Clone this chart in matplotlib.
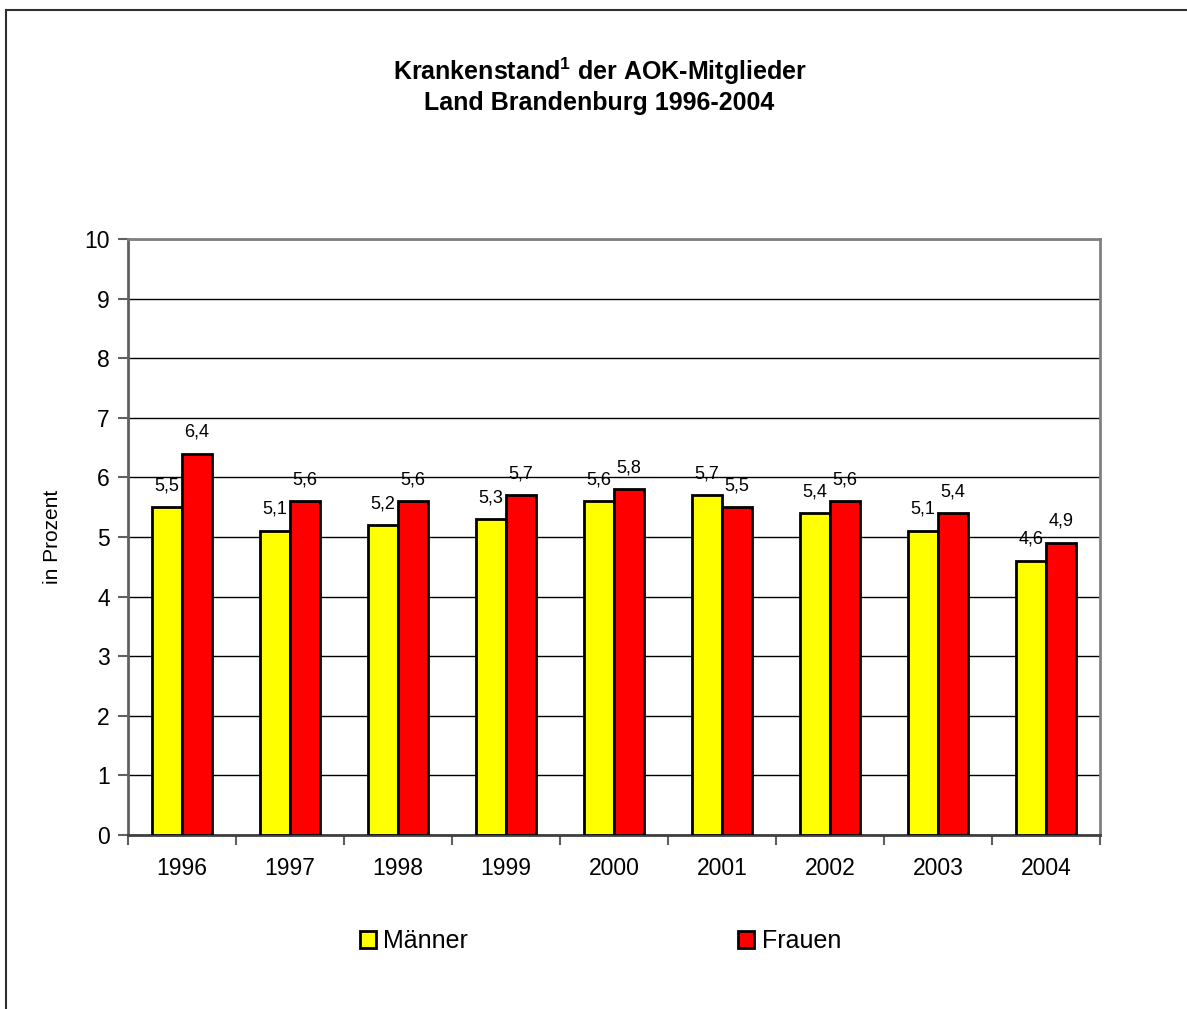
import numpy as np
import matplotlib.pyplot as plt
from matplotlib.lines import Line2D
from matplotlib.patches import Patch

plt.rcParams['font.family'] = ['Liberation Sans', 'DejaVu Sans']
plt.rcParams['mathtext.fontset'] = 'custom'
plt.rcParams['mathtext.rm'] = 'Liberation Sans'
plt.rcParams['mathtext.bf'] = 'Liberation Sans:bold'

# DATEN
jahre = ['1996', '1997', '1998', '1999', '2000', '2001', '2002', '2003', '2004']
maenner = [5.5, 5.1, 5.2, 5.3, 5.6, 5.7, 5.4, 5.1, 4.6]
frauen = [6.4, 5.6, 5.6, 5.7, 5.8, 5.5, 5.6, 5.4, 4.9]

fig = plt.figure(figsize=(11.87, 10.09), dpi=100)
ax = fig.add_axes([0.1078, 0.1724, 0.8189, 0.5907])

x = np.arange(len(jahre))
w = 0.28
ax.bar(x - w/2, maenner, w, color='#ffff00', edgecolor='black', lw=2, zorder=3)
ax.bar(x + w/2, frauen, w, color='#ff0000', edgecolor='black', lw=2, zorder=3)

for xi, m, f in zip(x, maenner, frauen):
    ax.text(xi - w/2, m + 0.22, f'{m:.1f}'.replace('.', ','), ha='center', va='bottom', fontsize=13)
    ax.text(xi + w/2, f + 0.22, f'{f:.1f}'.replace('.', ','), ha='center', va='bottom', fontsize=13)

ax.set_xlim(-0.5, len(jahre) - 0.5)
ax.set_ylim(0, 10)
ax.set_yticks(range(0, 11))
ax.yaxis.grid(True, color='black', lw=1)
ax.set_axisbelow(True)
ax.set_xticks(x)
ax.set_xticklabels(jahre, fontsize=16.5)
ax.set_xticks(np.arange(-0.5, len(jahre)), minor=True)
ax.tick_params(axis='x', which='major', length=0, pad=16)
ax.tick_params(axis='x', which='minor', length=7, width=1.5, color='#606060')
ax.tick_params(axis='y', length=7, width=1.5, color='#606060', labelsize=16.5, pad=6)
for s in ax.spines.values():
    s.set_color('#808080')
    s.set_linewidth(2)
ax.spines['left'].set_color('#606060')
ax.spines['bottom'].set_color('#404040')
ax.set_ylabel('in Prozent', fontsize=15, labelpad=16)

fig.text(0.505, 0.929, r'Krankenstand$^{\mathbf{1}}$ der AOK-Mitglieder', ha='center', va='center',
         fontsize=18, fontweight='bold')
fig.text(0.505, 0.898, 'Land Brandenburg 1996-2004', ha='center', va='center',
         fontsize=18, fontweight='bold')

handles = [Patch(facecolor='#ffff00', edgecolor='black', lw=2, label='Männer'),
           Patch(facecolor='#ff0000', edgecolor='black', lw=2, label='Frauen')]
fig.legend(handles=handles, loc='center', bbox_to_anchor=(0.506, 0.067), ncol=2, frameon=False,
           fontsize=18, handlelength=0.64, handleheight=0.64, handletextpad=0.3, columnspacing=10.8)

# Rahmen
fig.add_artist(Line2D([6/1187, 6/1187], [0, 1 - 10/1009], color='#303030', lw=1.5, transform=fig.transFigure))
fig.add_artist(Line2D([6/1187, 1], [1 - 10/1009, 1 - 10/1009], color='#303030', lw=1.5, transform=fig.transFigure))

plt.savefig('out.png', dpi=100)
